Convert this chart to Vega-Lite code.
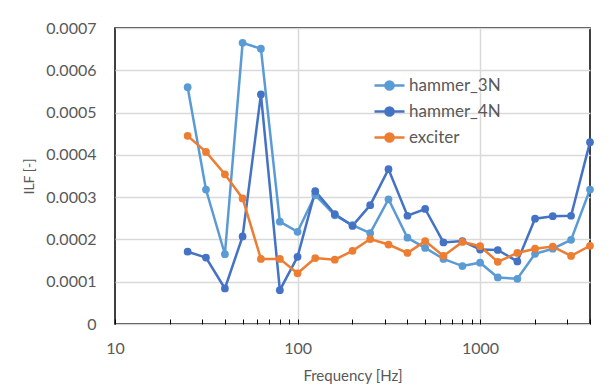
{
  "$schema": "https://vega.github.io/schema/vega-lite/v6.json",
  "autosize": {"type": "none"},
  "padding": {"left": 115, "top": 28, "right": 24, "bottom": 61},
  "width": 475,
  "height": 296,
  "background": "white",
  "config": {
    "font": "Lato",
    "view": {"stroke": "#000000", "strokeWidth": 1.5}
  },
  "data": {
    "values": [
      {"f": 25, "s": "hammer_3N", "v": 0.00056},
      {"f": 31.5, "s": "hammer_3N", "v": 0.000318},
      {"f": 40, "s": "hammer_3N", "v": 0.000165},
      {"f": 50, "s": "hammer_3N", "v": 0.000665},
      {"f": 63, "s": "hammer_3N", "v": 0.000651},
      {"f": 80, "s": "hammer_3N", "v": 0.000242},
      {"f": 100, "s": "hammer_3N", "v": 0.000218},
      {"f": 125, "s": "hammer_3N", "v": 0.000305},
      {"f": 160, "s": "hammer_3N", "v": 0.000257},
      {"f": 200, "s": "hammer_3N", "v": 0.000234},
      {"f": 250, "s": "hammer_3N", "v": 0.000215},
      {"f": 315, "s": "hammer_3N", "v": 0.000295},
      {"f": 400, "s": "hammer_3N", "v": 0.000204},
      {"f": 500, "s": "hammer_3N", "v": 0.00018},
      {"f": 630, "s": "hammer_3N", "v": 0.000154},
      {"f": 800, "s": "hammer_3N", "v": 0.000137},
      {"f": 1000, "s": "hammer_3N", "v": 0.000145},
      {"f": 1250, "s": "hammer_3N", "v": 0.00011},
      {"f": 1600, "s": "hammer_3N", "v": 0.000107},
      {"f": 2000, "s": "hammer_3N", "v": 0.000166},
      {"f": 2500, "s": "hammer_3N", "v": 0.000178},
      {"f": 3150, "s": "hammer_3N", "v": 0.000199},
      {"f": 4000, "s": "hammer_3N", "v": 0.000318},
      {"f": 25, "s": "hammer_4N", "v": 0.000171},
      {"f": 31.5, "s": "hammer_4N", "v": 0.000157},
      {"f": 40, "s": "hammer_4N", "v": 0.000084},
      {"f": 50, "s": "hammer_4N", "v": 0.000207},
      {"f": 63, "s": "hammer_4N", "v": 0.000543},
      {"f": 80, "s": "hammer_4N", "v": 0.00008},
      {"f": 100, "s": "hammer_4N", "v": 0.000159},
      {"f": 125, "s": "hammer_4N", "v": 0.000314},
      {"f": 160, "s": "hammer_4N", "v": 0.00026},
      {"f": 200, "s": "hammer_4N", "v": 0.000232},
      {"f": 250, "s": "hammer_4N", "v": 0.000281},
      {"f": 315, "s": "hammer_4N", "v": 0.000366},
      {"f": 400, "s": "hammer_4N", "v": 0.000256},
      {"f": 500, "s": "hammer_4N", "v": 0.000272},
      {"f": 630, "s": "hammer_4N", "v": 0.000193},
      {"f": 800, "s": "hammer_4N", "v": 0.000196},
      {"f": 1000, "s": "hammer_4N", "v": 0.000176},
      {"f": 1250, "s": "hammer_4N", "v": 0.000175},
      {"f": 1600, "s": "hammer_4N", "v": 0.000148},
      {"f": 2000, "s": "hammer_4N", "v": 0.000249},
      {"f": 2500, "s": "hammer_4N", "v": 0.000255},
      {"f": 3150, "s": "hammer_4N", "v": 0.000256},
      {"f": 4000, "s": "hammer_4N", "v": 0.00043},
      {"f": 25, "s": "exciter", "v": 0.000445},
      {"f": 31.5, "s": "exciter", "v": 0.000407},
      {"f": 40, "s": "exciter", "v": 0.000354},
      {"f": 50, "s": "exciter", "v": 0.000297},
      {"f": 63, "s": "exciter", "v": 0.000154},
      {"f": 80, "s": "exciter", "v": 0.000154},
      {"f": 100, "s": "exciter", "v": 0.00012},
      {"f": 125, "s": "exciter", "v": 0.000156},
      {"f": 160, "s": "exciter", "v": 0.000152},
      {"f": 200, "s": "exciter", "v": 0.000173},
      {"f": 250, "s": "exciter", "v": 0.000201},
      {"f": 315, "s": "exciter", "v": 0.000188},
      {"f": 400, "s": "exciter", "v": 0.000168},
      {"f": 500, "s": "exciter", "v": 0.000196},
      {"f": 630, "s": "exciter", "v": 0.000161},
      {"f": 800, "s": "exciter", "v": 0.000194},
      {"f": 1000, "s": "exciter", "v": 0.000184},
      {"f": 1250, "s": "exciter", "v": 0.000147},
      {"f": 1600, "s": "exciter", "v": 0.000168},
      {"f": 2000, "s": "exciter", "v": 0.000178},
      {"f": 2500, "s": "exciter", "v": 0.000183},
      {"f": 3150, "s": "exciter", "v": 0.000161},
      {"f": 4000, "s": "exciter", "v": 0.000185}
    ]
  },
  "mark": {"type": "line", "strokeWidth": 2.5, "point": {"size": 60, "filled": true}},
  "encoding": {
    "x": {
      "field": "f",
      "type": "quantitative",
      "scale": {"type": "log", "domain": [10, 4000], "nice": false},
      "axis": {
        "title": "Frequency [Hz]",
        "values": [10, 20, 30, 40, 50, 60, 70, 80, 90, 100, 200, 300, 400, 500, 600, 700, 800, 900, 1000, 2000, 3000, 4000],
        "labelExpr": "datum.value == 10 || datum.value == 100 || datum.value == 1000 ? datum.value : ''",
        "labelFlush": false,
        "labelOverlap": false,
        "labelPadding": 21,
        "labelFontSize": 16,
        "labelColor": "#595959",
        "titleFontSize": 15,
        "titleFontWeight": "normal",
        "titleColor": "#595959",
        "titlePadding": 12,
        "domain": false,
        "tickSize": -5,
        "tickColor": "#000000",
        "tickWidth": 1,
        "grid": true,
        "gridColor": {"condition": {"test": "datum.value == 100 || datum.value == 1000", "value": "#d9d9d9"}, "value": "transparent"},
        "gridWidth": 1.5
      }
    },
    "y": {
      "field": "v",
      "type": "quantitative",
      "scale": {"domain": [0, 0.0007], "nice": false},
      "axis": {
        "title": "ILF [-]",
        "values": [0, 0.0001, 0.0002, 0.0003, 0.0004, 0.0005, 0.0006, 0.0007],
        "labelExpr": "datum.value == 0 ? '0' : format(datum.value, '.4f')",
        "labelPadding": 19,
        "labelFontSize": 16,
        "labelColor": "#595959",
        "titleFontSize": 14,
        "titleFontWeight": "normal",
        "titleColor": "#595959",
        "titlePadding": 9,
        "domain": false,
        "ticks": false,
        "grid": true,
        "gridColor": "#d9d9d9",
        "gridWidth": 1.5
      }
    },
    "color": {
      "field": "s",
      "type": "nominal",
      "sort": ["hammer_3N", "hammer_4N", "exciter"],
      "scale": {"domain": ["hammer_3N", "hammer_4N", "exciter"], "range": ["#5B9BD5", "#4472C4", "#ED7D31"]},
      "legend": {
        "title": null,
        "orient": "none",
        "legendX": 258,
        "legendY": 41,
        "labelFontSize": 17,
        "labelColor": "#595959",
        "symbolType": "M-1,0L1,0M0.27,0A0.27,0.27 0 1,1 -0.27,0A0.27,0.27 0 1,1 0.27,0Z",
        "symbolSize": 900,
        "symbolStrokeWidth": 2.5,
        "rowPadding": -6,
        "labelOffset": 3
      }
    }
  }
}
